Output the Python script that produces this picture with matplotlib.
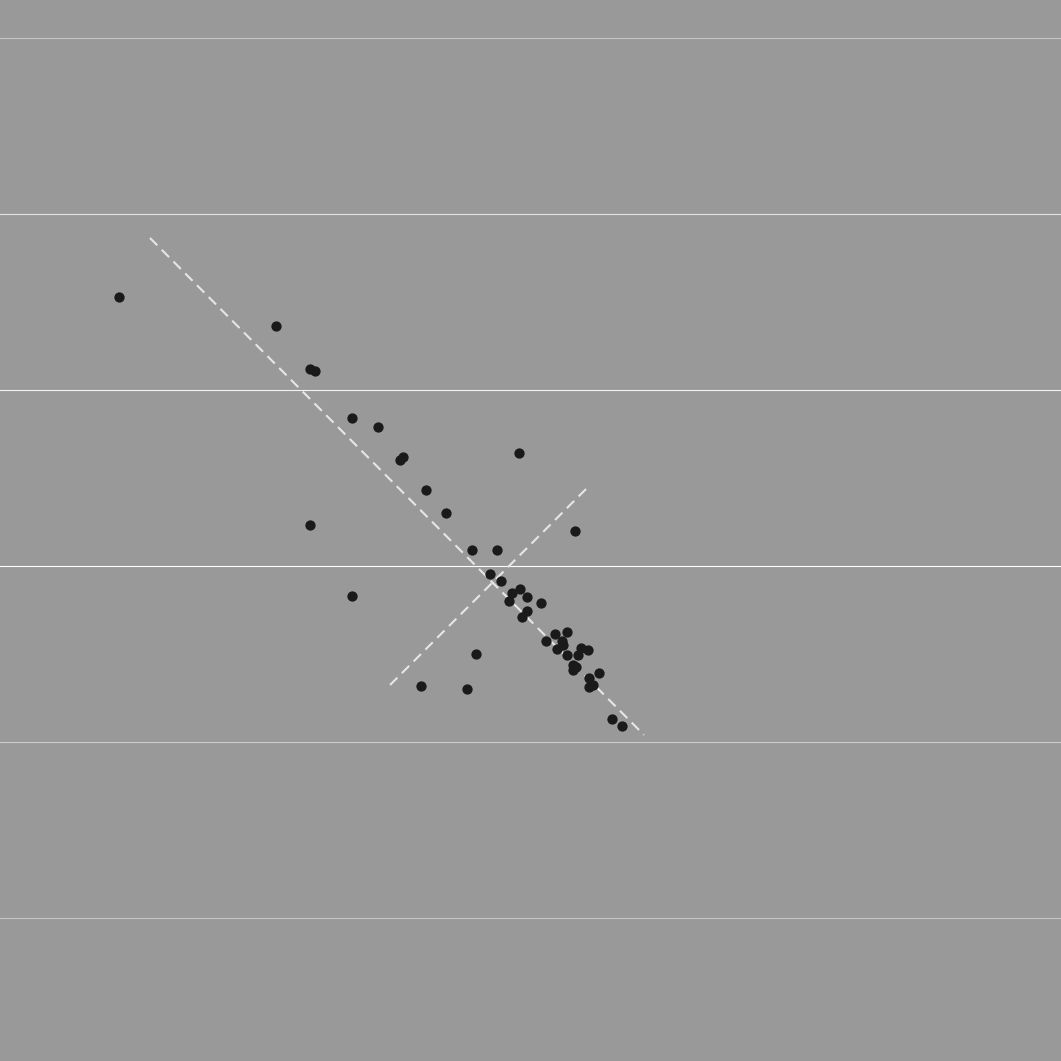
import matplotlib
matplotlib.use("Agg")
import matplotlib.pyplot as plt

# scatter points
xs = [-2.335, -1.443, -1.25, -1.222, -1.011, -0.864, -0.739, -0.722, -0.0625, -0.591,
      -0.477, -1.25, 0.254, -0.328, -0.189, -1.011, -0.227, -0.166, -0.104, -0.059,
      -0.118, -0.019, 0.061, -0.019, -0.047, 0.140, 0.212, 0.091, 0.182, 0.189,
      0.152, 0.212, 0.290, 0.331, 0.273, 0.243, 0.261, 0.243, 0.392, 0.334,
      0.360, 0.337, 0.464, 0.524, -0.309, -0.621, -0.360]
ys = [1.528, 1.364, 1.119, 1.108, 0.841, 0.790, 0.602, 0.619, 0.642, 0.432,
      0.301, 0.233, 0.199, 0.089, 0.089, -0.170, -0.047, -0.087, -0.152, -0.129,
      -0.197, -0.178, -0.209, -0.257, -0.290, -0.388, -0.377, -0.428, -0.428, -0.451,
      -0.470, -0.507, -0.466, -0.477, -0.507, -0.5625, -0.572, -0.591, -0.610, -0.638,
      -0.678, -0.689, -0.871, -0.909, -0.5, -0.680, -0.699]

# principal axes (dashed)
axis1_x = [-2.159, 0.648]
axis1_y = [1.864, -0.960]
axis2_x = [-0.795, 0.330]
axis2_y = [-0.676, 0.449]

grid_y = [-2, -1, 0, 1, 2, 3]
grid_colors = ["#c6c6c6", "#cccccc", "#ffffff", "#f2f2f2", "#e2e2e2", "#c6c6c6"]

fig = plt.figure(figsize=(10.61, 10.61), dpi=100)
fig.patch.set_facecolor("#999999")
ax = fig.add_axes([0, 0, 1, 1])
ax.set_facecolor("#999999")

for gy, gc in zip(grid_y, grid_colors):
    ax.axhline(gy, color=gc, lw=0.8, zorder=1)

ax.plot(axis1_x, axis1_y, color="#e6e6e6", lw=1.5, dashes=(5, 3), zorder=2)
ax.plot(axis2_x, axis2_y, color="#e6e6e6", lw=1.5, dashes=(5, 3), zorder=2)
ax.scatter(xs, ys, s=55, color="#1a1a1a", linewidths=0, zorder=3)

ax.set_xlim(-3.011, 3.017)
ax.set_ylim(-2.8125, 3.216)
for s in ax.spines.values():
    s.set_visible(False)
ax.set_xticks([])
ax.set_yticks([])

fig.savefig("out.png", dpi=100, facecolor=fig.get_facecolor())
